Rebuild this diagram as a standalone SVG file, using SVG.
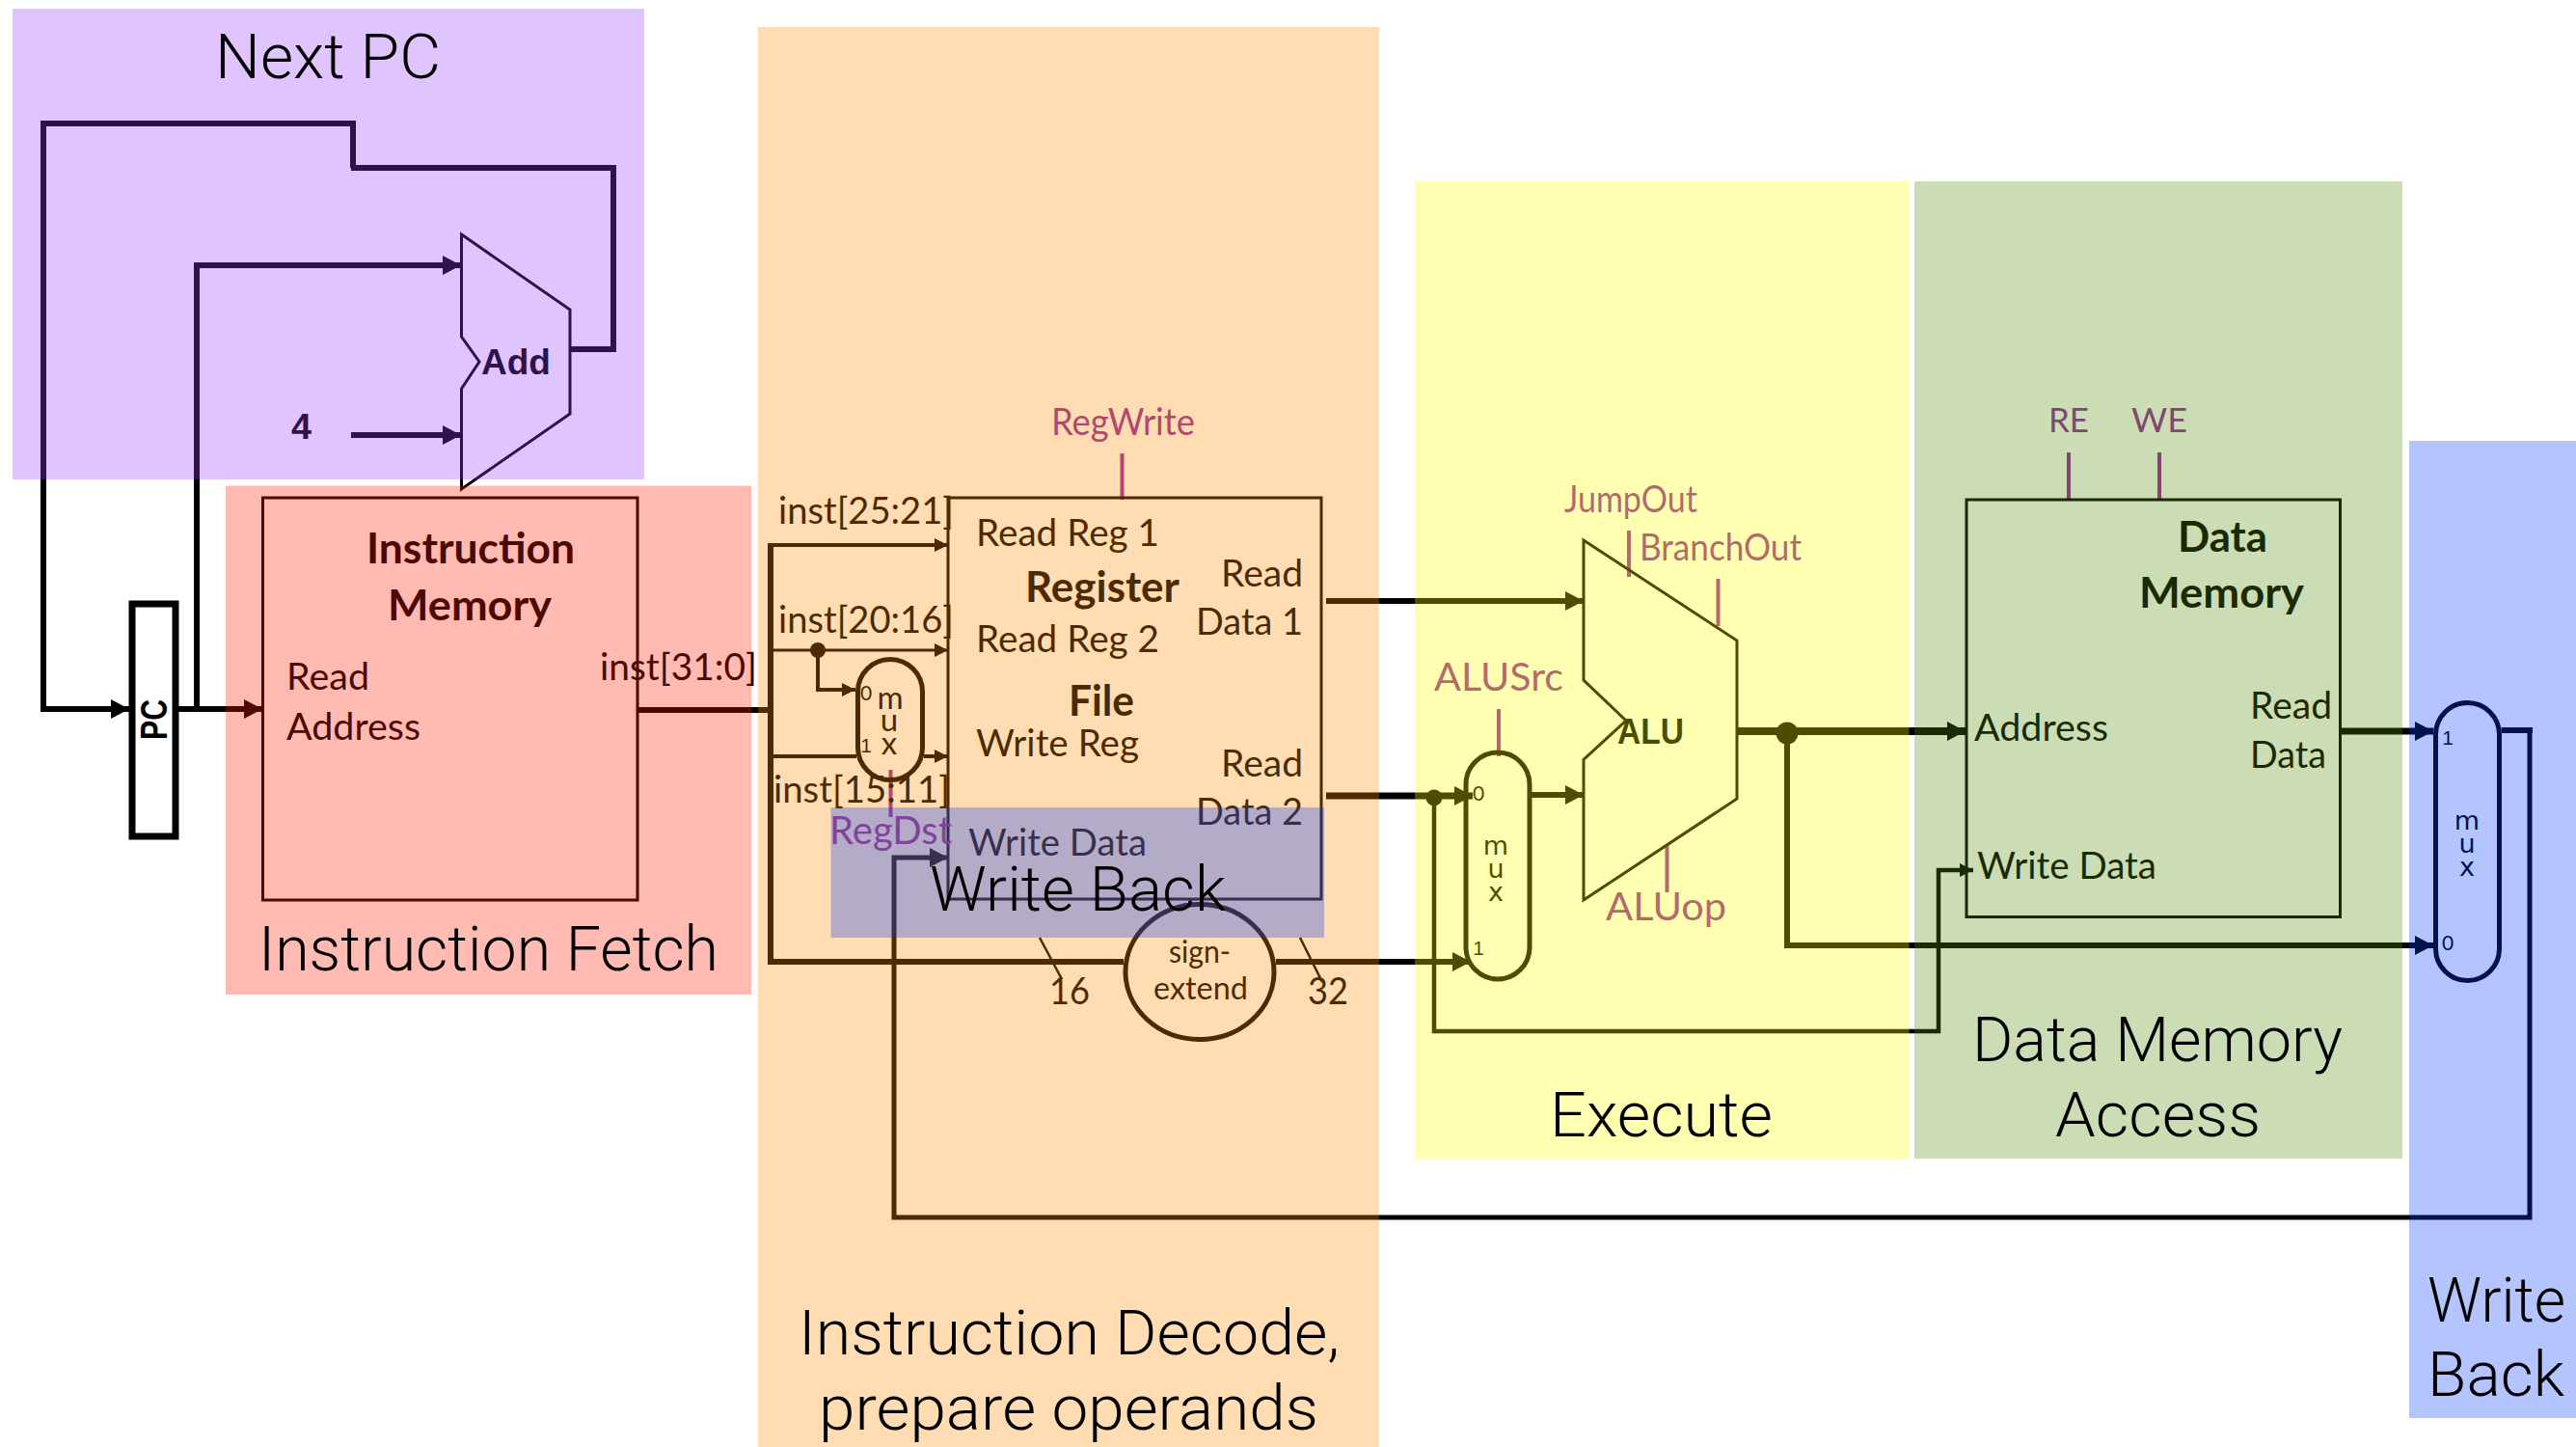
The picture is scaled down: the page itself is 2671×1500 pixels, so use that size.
<svg xmlns="http://www.w3.org/2000/svg" width="2671" height="1500" viewBox="0 0 2671 1500">
<style>
text{font-family:Lato,"Open Sans","Liberation Sans",sans-serif;fill:#000;font-size:39px}
.b{font-weight:700;font-size:44px}
.c{fill:#942a9c;font-size:38px}
.r{font-family:Roboto,"Liberation Sans",sans-serif;font-weight:300;font-size:64px}
.s{font-size:21px}
.n{font-family:"Liberation Sans",sans-serif}
.m{font-family:"DejaVu Sans",sans-serif;font-size:27px;text-anchor:middle}
.e{text-anchor:middle}
.k{fill:none;stroke:#000;stroke-width:3}
.mx{fill:none;stroke:#000;stroke-width:5}
.w{fill:none;stroke:#000;stroke-width:6}
.a{marker-end:url(#big)}
.t{marker-end:url(#small)}
.ctl{fill:none;stroke:#942a9c;stroke-width:4}
.reg{opacity:.3}
</style>
<defs>
<marker id="big" markerUnits="userSpaceOnUse" markerWidth="19" markerHeight="20" refX="19" refY="10" orient="auto"><path d="M0 0L19 10L0 20z" fill="#000"/></marker>
<marker id="small" markerUnits="userSpaceOnUse" markerWidth="14" markerHeight="14" refX="14" refY="7" orient="auto"><path d="M0 0L14 7L0 14z" fill="#000"/></marker>
</defs>
<rect width="2671" height="1500" fill="#fff"/>

<g id="connectors">
<path class="w a" d="M366 174V128H45V735H134"/>
<path class="w" d="M591 362H636V174H364"/>
<path class="w a" d="M185 735H272"/>
<path class="w a" d="M204 735V275H478"/>
<path class="w a" d="M364 451H478"/>
<path class="w" d="M661 736H799"/>
<path class="w" d="M799 565V997H1165"/>
<path class="k t" style="stroke-width:4" d="M796 565H983"/>
<path class="k t" d="M796 674H983"/>
<path class="k t" style="stroke-width:4" d="M848 674V715H887"/>
<path class="k" style="stroke-width:4" d="M796 784H888"/>
<path class="k t" style="stroke-width:4" d="M958 784H983"/>
<path class="w a" style="stroke-width:5" d="M2623 757V1262H927V889H983"/>
<path class="w" d="M2594 757H2626"/>
<path class="w" d="M1323 997H1487"/>
<path class="w a" d="M1375 623H1642"/>
<path class="w a" style="stroke-width:7" d="M1375 825H1527"/>
<path class="w a" d="M1487 997H1525"/>
<path class="w a" d="M1588 824H1642"/>
<path class="w t" style="stroke-width:4.5" d="M1487 827V1069H2010V902H2046"/>
<path class="w a" style="stroke-width:8" d="M1801 758H2038"/>
<path class="w a" d="M1853 760V980H2523"/>
<path class="w a" style="stroke-width:7" d="M2427 758H2523"/>
<circle cx="848" cy="674" r="8"/>
<circle cx="1487" cy="827" r="8.5"/>
<circle cx="1853" cy="760" r="11.5"/>
<path class="k" style="stroke-width:2.5" d="M1078 972L1101 1015M1348 972L1371 1018"/>
<path class="ctl" d="M923.5 798V847M1163.5 470V518M1554 735V784M1689 550V598M1781.5 600V649M1728.5 875V925M2145 469V519M2239 469V519"/>
</g>

<g id="pc"><rect x="137" y="626" width="45" height="241" fill="#fff" stroke="#000" stroke-width="7"/>
<text transform="translate(172.5 767) rotate(-90)" style="font-family:'Liberation Sans',sans-serif;font-weight:700;font-size:38px" textLength="42" lengthAdjust="spacingAndGlyphs">PC</text></g>

<g id="adder"><path class="k" d="M478.5 243L591 321V429L478.5 507V403L497 375L478.5 349z"/>
<text style="font-family:'Liberation Sans',sans-serif;font-weight:700;font-size:37px" x="499" y="388" textLength="72" lengthAdjust="spacingAndGlyphs">Add</text>
<text style="font-family:'Liberation Sans',sans-serif;font-weight:700;font-size:36px" x="302" y="455" textLength="21" lengthAdjust="spacingAndGlyphs">4</text></g>

<g id="instruction-memory"><rect class="k" x="272.5" y="516" width="388.500" height="417"/>
<text class="b" x="380" y="584" textLength="216" lengthAdjust="spacingAndGlyphs">Instruction</text>
<text class="b" x="402" y="643" textLength="170" lengthAdjust="spacingAndGlyphs">Memory</text>
<text x="297" y="715" textLength="86" lengthAdjust="spacingAndGlyphs">Read</text>
<text x="297" y="767" textLength="139" lengthAdjust="spacingAndGlyphs">Address</text>
<text x="622" y="705" textLength="163" lengthAdjust="spacingAndGlyphs">inst[31:0]</text></g>

<g id="register-file"><rect class="k" x="983" y="516" width="387" height="416"/>
<text x="807" y="543" textLength="182" lengthAdjust="spacingAndGlyphs">inst[25:21]</text>
<text x="807" y="656" textLength="182" lengthAdjust="spacingAndGlyphs">inst[20:16]</text>
<text x="802" y="832" textLength="183" lengthAdjust="spacingAndGlyphs">inst[15:11]</text>
<text x="1012" y="566" textLength="190" lengthAdjust="spacingAndGlyphs">Read Reg 1</text>
<text x="1012" y="676" textLength="190" lengthAdjust="spacingAndGlyphs">Read Reg 2</text>
<text x="1012" y="784" textLength="169" lengthAdjust="spacingAndGlyphs">Write Reg</text>
<text x="1004" y="887" textLength="185" lengthAdjust="spacingAndGlyphs">Write Data</text>
<text class="b" x="1063" y="624" textLength="160" lengthAdjust="spacingAndGlyphs">Register</text>
<text class="b" x="1108" y="742" textLength="68" lengthAdjust="spacingAndGlyphs">File</text>
<text x="1266" y="608" textLength="85" lengthAdjust="spacingAndGlyphs">Read</text>
<text x="1240" y="658" textLength="111" lengthAdjust="spacingAndGlyphs">Data 1</text>
<text x="1266" y="805" textLength="85" lengthAdjust="spacingAndGlyphs">Read</text>
<text x="1240" y="855" textLength="111" lengthAdjust="spacingAndGlyphs">Data 2</text>
<text class="c" x="1090" y="451" textLength="149" lengthAdjust="spacingAndGlyphs">RegWrite</text></g>

<g id="regdst-mux"><rect class="mx" x="889.5" y="683.500" width="67" height="125" rx="33.500"/>
<text class="e" style="font-size:33px" x="923" y="735">m</text><text class="e" style="font-size:33px" x="922" y="758">u</text><text class="e" style="font-size:33px" x="922" y="782">x</text>
<text class="s e" x="898" y="726">0</text><text class="s e n" x="898" y="780">1</text>
<text class="c" style="font-size:40px" x="860" y="875" textLength="127" lengthAdjust="spacingAndGlyphs">RegDst</text></g>

<g id="sign-extend"><ellipse cx="1244" cy="1007.5" rx="77" ry="70" fill="none" stroke="#000" stroke-width="5"/>
<text x="1212" y="998" textLength="64" style="font-size:33px" lengthAdjust="spacingAndGlyphs">sign-</text>
<text x="1196" y="1036" textLength="98" style="font-size:33px" lengthAdjust="spacingAndGlyphs">extend</text>
<text x="1088" y="1041" textLength="42" lengthAdjust="spacingAndGlyphs">16</text>
<text x="1356" y="1041" textLength="42" lengthAdjust="spacingAndGlyphs">32</text></g>

<g id="alusrc-mux"><rect class="mx" x="1520" y="780" width="66" height="235" rx="33"/>
<text class="m" x="1551" y="886">m</text><text class="m" x="1551" y="910">u</text><text class="m" x="1551" y="934">x</text>
<text class="s e" x="1533" y="830">0</text><text class="s e n" x="1533" y="990">1</text>
<text class="c" style="font-size:40px" x="1487" y="716" textLength="134" lengthAdjust="spacingAndGlyphs">ALUSrc</text></g>

<g id="alu"><path class="k" d="M1642 560L1801 664V828L1642 933V787.5L1686 747L1642 705z"/>
<text style="font-family:'Liberation Sans',sans-serif;font-weight:700;font-size:36px" x="1677" y="771" textLength="69" lengthAdjust="spacingAndGlyphs">ALU</text>
<text class="c" x="1622" y="531" textLength="138" lengthAdjust="spacingAndGlyphs">JumpOut</text>
<text class="c" x="1700" y="581" textLength="168" lengthAdjust="spacingAndGlyphs">BranchOut</text>
<text class="c" style="font-size:40px" x="1665" y="954" textLength="125" lengthAdjust="spacingAndGlyphs">ALUop</text></g>

<g id="data-memory"><rect class="k" x="2039" y="518" width="387.5" height="432.5"/>
<text class="b" x="2258" y="572" textLength="93" lengthAdjust="spacingAndGlyphs">Data</text>
<text class="b" x="2218" y="630" textLength="171" lengthAdjust="spacingAndGlyphs">Memory</text>
<text x="2333" y="745" textLength="85" lengthAdjust="spacingAndGlyphs">Read</text>
<text x="2333" y="796" textLength="79" lengthAdjust="spacingAndGlyphs">Data</text>
<text x="2047" y="768" textLength="139" lengthAdjust="spacingAndGlyphs">Address</text>
<text x="2050" y="911" textLength="186" lengthAdjust="spacingAndGlyphs">Write Data</text>
<text class="c" style="font-size:35px" x="2124" y="448" textLength="42" lengthAdjust="spacingAndGlyphs">RE</text>
<text class="c" style="font-size:35px" x="2210" y="448" textLength="58" lengthAdjust="spacingAndGlyphs">WE</text></g>

<g id="memtoreg-mux"><rect class="mx" x="2525.5" y="728.5" width="66" height="288" rx="33"/>
<text class="m" x="2558" y="860">m</text><text class="m" x="2558" y="884">u</text><text class="m" x="2558" y="908">x</text>
<text class="s e n" x="2538" y="772">1</text><text class="s e" x="2538" y="985">0</text></g>

<g id="stage-next-pc"><rect class="reg" x="13" y="9" width="655" height="488" fill="#993cfa"/>
<text class="r" x="223" y="81" textLength="234" lengthAdjust="spacingAndGlyphs">Next PC</text></g>
<g id="stage-instruction-fetch"><rect class="reg" x="234" y="503.5" width="545" height="527.5" fill="#ff1c00"/>
<text class="r" x="268" y="1006" textLength="477" lengthAdjust="spacingAndGlyphs">Instruction Fetch</text></g>
<g id="stage-decode"><rect class="reg" x="786" y="28" width="644" height="1472" fill="#ff8c00"/>
<text class="r" x="828" y="1404" textLength="561" lengthAdjust="spacingAndGlyphs">Instruction Decode,</text>
<text class="r" x="849" y="1482" textLength="518" lengthAdjust="spacingAndGlyphs">prepare operands</text></g>
<g id="stage-execute"><rect class="reg" x="1467" y="188" width="512.5" height="1013" fill="#ffff00"/>
<text class="r" x="1607" y="1178" textLength="231" lengthAdjust="spacingAndGlyphs">Execute</text></g>
<g id="stage-memory"><rect class="reg" x="1985" y="188" width="506" height="1013" fill="#578c06"/>
<text class="r" x="2045" y="1100" textLength="384" lengthAdjust="spacingAndGlyphs">Data Memory</text>
<text class="r" x="2131" y="1178" textLength="213" lengthAdjust="spacingAndGlyphs">Access</text></g>
<g id="stage-write-back"><rect class="reg" x="2498" y="457" width="173" height="1013" fill="#063cff"/>
<text class="r" x="2517" y="1370" textLength="143" lengthAdjust="spacingAndGlyphs">Write</text>
<text class="r" x="2517" y="1447" textLength="142" lengthAdjust="spacingAndGlyphs">Back</text></g>
<g id="stage-write-back-register"><rect class="reg" x="861.5" y="837" width="511.5" height="135" fill="#063cff"/>
<text class="r" x="964" y="944" textLength="307" lengthAdjust="spacingAndGlyphs">Write Back</text></g>
</svg>
